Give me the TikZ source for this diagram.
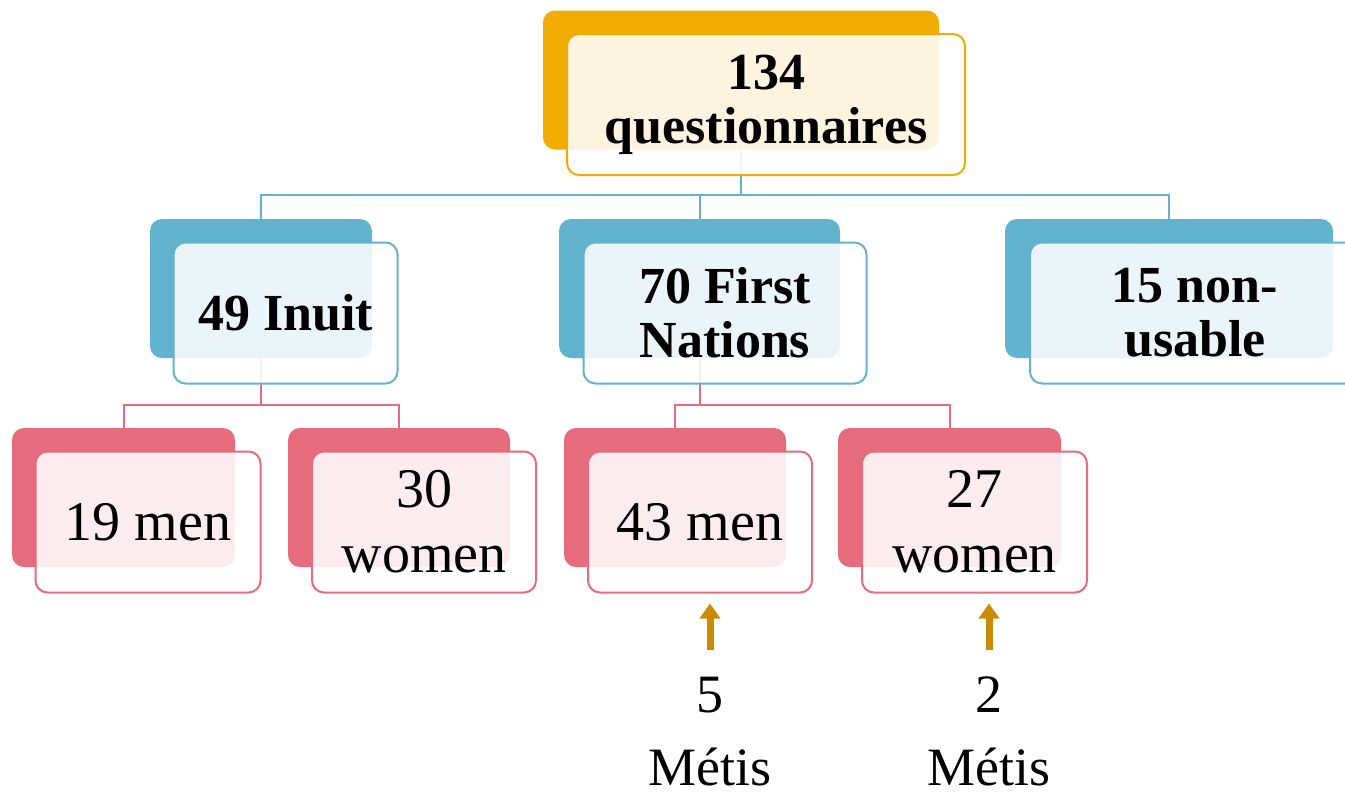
\documentclass[tikz,border=0pt]{standalone}
\usepackage{fontspec}
\setmainfont{Liberation Serif}
\usetikzlibrary{arrows.meta}
\definecolor{qgold}{RGB}{240,172,0}
\definecolor{grpblue}{RGB}{98,180,206}
\definecolor{sexred}{RGB}{230,108,125}
\definecolor{metisgold}{RGB}{201,140,0}
\tikzset{
  backbox/.style={rounded corners=12pt, inner sep=0pt, minimum height=139pt, fill=#1},
  frontbox/.style={rounded corners=12pt, inner sep=0pt, minimum height=141pt,
    draw=#1, line width=2pt, fill=white, fill opacity=0.88, text opacity=1, align=center},
  boldtext/.style={font=\fontsize{52}{54}\selectfont\bfseries},
  plaintext/.style={font=\fontsize{56}{65}\selectfont},
  link/.style={draw=#1, line width=2pt},
  metisarrow/.style={draw=metisgold, line width=7pt, -{Triangle[width=20pt,length=15pt]}},
}
\begin{document}
\begin{tikzpicture}[x=1pt,y=-1pt]
  \clip (0,0) rectangle (1345,796);
  % back boxes
  \node[backbox=qgold, minimum width=396pt] (qb) at (741,80) {};
  \node[backbox=grpblue, minimum width=222pt] (ib) at (261,288.5) {};
  \node[backbox=grpblue, minimum width=281pt] (fb) at (699.5,288.5) {};
  \node[backbox=grpblue, minimum width=328pt] (nb) at (1169,288.5) {};
  \node[backbox=sexred, minimum width=223pt] (m19b) at (123.5,497.5) {};
  \node[backbox=sexred, minimum width=222pt] (w30b) at (399,497.5) {};
  \node[backbox=sexred, minimum width=222pt] (m43b) at (675,497.5) {};
  \node[backbox=sexred, minimum width=223pt] (w27b) at (949.5,497.5) {};
  % links
  \coordinate (qsplit) at (741,195);
  \coordinate (isplit) at (261,405);
  \coordinate (fsplit) at (699.5,405);
  \draw[link=grpblue] (qb.south) -- (qsplit);
  \draw[link=grpblue] (qsplit) -| (ib.north);
  \draw[link=grpblue] (qsplit) -| (fb.north);
  \draw[link=grpblue] (qsplit) -| (nb.north);
  \draw[link=sexred] (ib.south) -- (isplit);
  \draw[link=sexred] (isplit) -| (m19b.north);
  \draw[link=sexred] (isplit) -| (w30b.north);
  \draw[link=sexred] (fb.south) -- (fsplit);
  \draw[link=sexred] (fsplit) -| (m43b.north);
  \draw[link=sexred] (fsplit) -| (w27b.north);
  % front boxes
  \node[frontbox=qgold, minimum width=398pt, boldtext] (q) at (766,104.5) {134\\questionnaires};
  \node[frontbox=grpblue, minimum width=224pt, boldtext] (inuit) at (285.5,313) {49 Inuit};
  \node[frontbox=grpblue, minimum width=283pt, boldtext] (fn) at (725,313) {70 First\\Nations};
  \node[frontbox=grpblue, minimum width=330pt, boldtext] (nu) at (1195,313) {15 non-\\usable};
  \node[frontbox=sexred, minimum width=225pt, plaintext] (m19) at (148,522) {19 men};
  \node[frontbox=sexred, minimum width=224pt, plaintext] (w30) at (424,522) {30\\women};
  \node[frontbox=sexred, minimum width=224pt, plaintext] (m43) at (700,522) {43 men};
  \node[frontbox=sexred, minimum width=225pt, plaintext] (w27) at (974.5,522) {27\\women};
  % metis
  \node[font=\fontsize{54}{73}\selectfont, align=center, inner sep=0pt, anchor=north] (m5) at (710,677) {5\\Métis};
  \node[font=\fontsize{54}{73}\selectfont, align=center, inner sep=0pt, anchor=north] (m2) at (989,677) {2\\Métis};
  \draw[metisarrow, shorten <=27pt, shorten >=10pt] (m5.north) -- (m5.north |- m43.south);
  \draw[metisarrow, shorten <=27pt, shorten >=10pt] (m2.north) -- (m2.north |- w27.south);
\end{tikzpicture}
\end{document}
